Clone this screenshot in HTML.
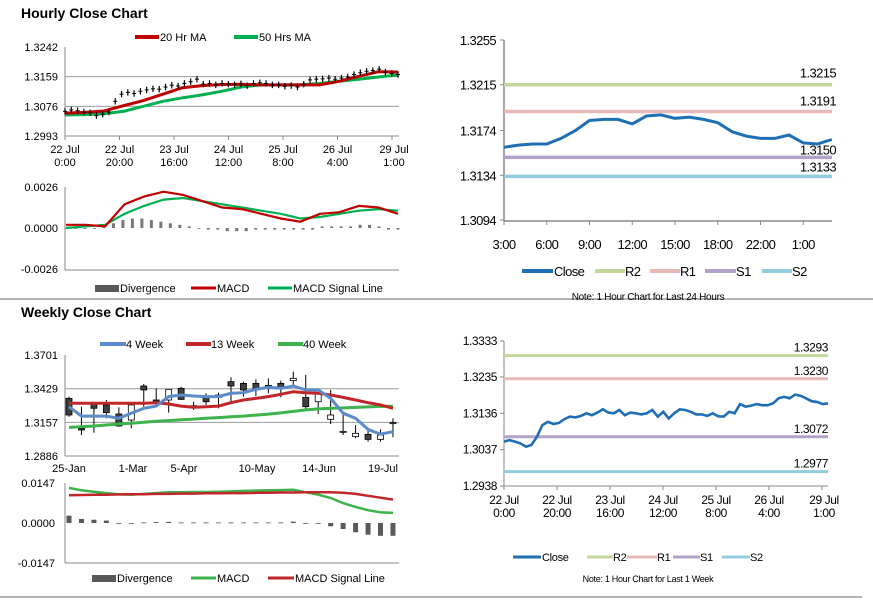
<!DOCTYPE html>
<html><head><meta charset="utf-8"><style>
html,body{margin:0;padding:0;background:#fff}
svg{display:block;font-family:"Liberation Sans",Arial,sans-serif}
.t{font-size:11px;fill:#000}
.tr{font-size:13px;fill:#000;letter-spacing:-0.6px}
.tb{font-size:12px;fill:#000;letter-spacing:-0.4px}
.h{font-size:14px;font-weight:bold;fill:#000}
.n{font-size:10px;fill:#000;letter-spacing:-0.3px}
</style></head><body>
<svg id="page" width="873" height="601" viewBox="0 0 873 601">
<text x="21" y="18" class="h">Hourly Close Chart</text>
<text x="21" y="317" class="h">Weekly Close Chart</text>
<line x1="0" y1="299" x2="873" y2="299" stroke="#888" stroke-width="1.2"/>
<line x1="0" y1="597" x2="862" y2="597" stroke="#888" stroke-width="1.2"/>

<g>
<line x1="135" y1="37" x2="159" y2="37" stroke="#c00000" stroke-width="4"/><text x="160" y="41" class="t">20 Hr MA</text>
<line x1="234" y1="37" x2="258" y2="37" stroke="#00b050" stroke-width="4"/><text x="259" y="41" class="t">50 Hrs MA</text>
</g>
<g>
<rect x="95" y="285" width="24" height="7" fill="#595959"/><text x="120" y="292" class="t">Divergence</text>
<line x1="191" y1="288" x2="216" y2="288" stroke="#c00000" stroke-width="3"/><text x="217" y="292" class="t">MACD</text>
<line x1="268" y1="288" x2="292" y2="288" stroke="#00b050" stroke-width="3"/><text x="293" y="292" class="t">MACD Signal Line</text>
</g>
<g>
<line x1="100" y1="344" x2="126" y2="344" stroke="#5b8bc9" stroke-width="4"/><text x="126" y="348" class="t">4 Week</text>
<line x1="186" y1="344" x2="211" y2="344" stroke="#c0262a" stroke-width="4"/><text x="211" y="348" class="t">13 Week</text>
<line x1="278" y1="344" x2="303" y2="344" stroke="#3cb44b" stroke-width="4"/><text x="303" y="348" class="t">40 Week</text>
</g>
<g>
<rect x="92" y="575" width="24" height="7" fill="#595959"/><text x="117" y="582" class="t">Divergence</text>
<line x1="191" y1="578" x2="216" y2="578" stroke="#3cb44b" stroke-width="3"/><text x="217" y="582" class="t">MACD</text>
<line x1="268" y1="578" x2="294" y2="578" stroke="#c0262a" stroke-width="3"/><text x="295" y="582" class="t">MACD Signal Line</text>
</g>
<g>
<line x1="522" y1="271" x2="553" y2="271" stroke="#1f6fb4" stroke-width="4"/><text x="554" y="276" class="tr">Close</text>
<line x1="595" y1="271" x2="625" y2="271" stroke="#c3d69b" stroke-width="4"/><text x="625" y="276" class="tr">R2</text>
<line x1="650" y1="271" x2="680" y2="271" stroke="#e6b9b8" stroke-width="4"/><text x="680" y="276" class="tr">R1</text>
<line x1="705" y1="271" x2="736" y2="271" stroke="#b3a2c7" stroke-width="4"/><text x="736" y="276" class="tr">S1</text>
<line x1="762" y1="271" x2="792" y2="271" stroke="#93cddd" stroke-width="4"/><text x="792" y="276" class="tr">S2</text>
<text x="648" y="300" class="n" text-anchor="middle">Note: 1 Hour Chart for Last 24 Hours</text>
</g>
<g>
<line x1="513" y1="557" x2="541" y2="557" stroke="#1f6fb4" stroke-width="3"/><text x="542" y="561" class="n" style="font-size:11px">Close</text>
<line x1="587" y1="557" x2="613" y2="557" stroke="#c3d69b" stroke-width="3"/><text x="613" y="561" class="n" style="font-size:11px">R2</text>
<line x1="627" y1="557" x2="657" y2="557" stroke="#e6b9b8" stroke-width="3"/><text x="657" y="561" class="n" style="font-size:11px">R1</text>
<line x1="673" y1="557" x2="700" y2="557" stroke="#b3a2c7" stroke-width="3"/><text x="700" y="561" class="n" style="font-size:11px">S1</text>
<line x1="722" y1="557" x2="750" y2="557" stroke="#93cddd" stroke-width="3"/><text x="750" y="561" class="n" style="font-size:11px">S2</text>
<text x="648" y="582" class="n" style="font-size:9px" text-anchor="middle">Note: 1 Hour Chart for  Last 1 Week</text>
</g>
<g id="charts"></g>
</svg>
<script>
// ---------- Hourly chart data ----------
const hTicks = [1.3242, 1.3159, 1.3076, 1.2993];
const hDates = ["22 Jul","22 Jul","23 Jul","24 Jul","25 Jul","26 Jul","29 Jul"];
const hTimes = ["0:00","20:00","16:00","12:00","8:00","4:00","1:00"];
const hClose = [1.3062,1.3066,1.3064,1.3060,1.3058,1.3050,1.3054,1.3060,1.3090,1.3110,1.3115,1.3112,1.3118,1.3122,1.3125,1.3124,1.3130,1.3135,1.3133,1.3140,1.3145,1.3152,1.3138,1.3140,1.3136,1.3140,1.3138,1.3136,1.3139,1.3134,1.3140,1.3142,1.3140,1.3136,1.3136,1.3132,1.3134,1.3130,1.3138,1.3150,1.3152,1.3153,1.3155,1.3152,1.3155,1.3158,1.3165,1.3170,1.3174,1.3176,1.3180,1.3172,1.3168,1.3165];
const hMA20 = [1.3057,1.3059,1.3063,1.3078,1.3092,1.3110,1.3128,1.3134,1.3137,1.3138,1.3136,1.3136,1.3136,1.3136,1.3146,1.3160,1.3173,1.3172];
const hMA50 = [1.3052,1.3053,1.3055,1.3062,1.3076,1.3090,1.3100,1.3108,1.3118,1.3130,1.3136,1.3136,1.3136,1.3140,1.3146,1.3152,1.3158,1.3164];
const hMacdTicks = [0.0026, 0.0000, -0.0026];
const hMacd = [0.0002,0.0002,0.0001,0.0015,0.0020,0.0023,0.0021,0.0017,0.0013,0.0012,0.0009,0.0006,0.0004,0.0009,0.0010,0.0014,0.0013,0.0009];
const hSignal = [0.0000,0.0001,0.0002,0.0009,0.0014,0.0018,0.0019,0.0017,0.0015,0.0013,0.0011,0.0009,0.0006,0.0007,0.0009,0.0011,0.0012,0.0011];
const hDiv = [0,0,0,0,0.0001,0.0003,0.0005,0.0006,0.0006,0.0005,0.0004,0.0003,0.0002,0.0001,0,-0.0001,-0.0001,-0.0002,-0.0002,-0.0002,-0.0001,-0.0001,-0.0001,-0.0001,-0.0001,-0.0001,-0.0001,0.0001,0.0001,0.0001,0.0001,0.0002,0.0002,0.0001,-0.0001,-0.0001];
// ---------- Weekly chart data ----------
const wTicks = [1.3701, 1.3429, 1.3157, 1.2886];
const wLabels = ["25-Jan","1-Mar","5-Apr","10-May","14-Jun","19-Jul"];
const wOpen  = [1.3351,1.3109,1.3311,1.3298,1.3225,1.3176,1.3451,1.3338,1.3338,1.3432,1.3292,1.3359,1.3359,1.3486,1.3472,1.3472,1.3456,1.3472,1.3494,1.3359,1.3324,1.3182,1.3082,1.3042,1.3061,1.3020,1.3152];
const wHigh  = [1.3365,1.3284,1.3324,1.3338,1.3279,1.3298,1.3467,1.3432,1.3424,1.3445,1.3324,1.3392,1.3397,1.3521,1.3486,1.3505,1.3513,1.3494,1.3567,1.3540,1.3413,1.3419,1.3217,1.3136,1.3109,1.3101,1.3190];
const wLow   = [1.3203,1.3055,1.3074,1.3190,1.3123,1.3109,1.3284,1.3289,1.3236,1.3338,1.3257,1.3298,1.3271,1.3324,1.3365,1.3370,1.3392,1.3359,1.3459,1.3257,1.3225,1.3144,1.3055,1.3029,1.3002,1.3002,1.3037];
const wClose = [1.3217,1.3096,1.3271,1.3236,1.3128,1.3298,1.3419,1.3324,1.3424,1.3343,1.3289,1.3324,1.3378,1.3451,1.3419,1.3432,1.3440,1.3432,1.3513,1.3284,1.3413,1.3217,1.3085,1.3069,1.3020,1.3055,1.3155];
const w4 = [1.3284,1.3208,1.3208,1.3208,1.3190,1.3231,1.3271,1.3289,1.3365,1.3378,1.3370,1.3365,1.3365,1.3392,1.3397,1.3424,1.3440,1.3432,1.3451,1.3419,1.3419,1.3351,1.3231,1.3190,1.3101,1.3063,1.3082];
const w13 = [1.3311,1.3311,1.3311,1.3311,1.3311,1.3311,1.3311,1.3316,1.3306,1.3289,1.3279,1.3284,1.3289,1.3316,1.3338,1.3351,1.3365,1.3384,1.3405,1.3397,1.3392,1.3378,1.3359,1.3338,1.3316,1.3298,1.3271];
const w40 = [1.3117,1.3122,1.3128,1.3136,1.3144,1.3150,1.3158,1.3166,1.3172,1.3178,1.3184,1.3190,1.3196,1.3202,1.3208,1.3216,1.3224,1.3234,1.3246,1.3258,1.3266,1.3270,1.3274,1.3278,1.3282,1.3286,1.3288];
const wMacdTicks = [0.0147, 0.0000, -0.0147];
const wMacd = [0.0129,0.0120,0.0115,0.0110,0.0105,0.0104,0.0107,0.0110,0.0113,0.0113,0.0114,0.0114,0.0115,0.0116,0.0118,0.0119,0.0120,0.0121,0.0122,0.0113,0.0104,0.0092,0.0073,0.0059,0.0047,0.0039,0.0037];
const wSignal = [0.0102,0.0103,0.0104,0.0104,0.0105,0.0106,0.0106,0.0107,0.0107,0.0108,0.0108,0.0109,0.0109,0.0110,0.0110,0.0111,0.0111,0.0112,0.0112,0.0113,0.0113,0.0113,0.0111,0.0107,0.0100,0.0093,0.0086];
const wDiv = [0.0027,0.0015,0.0012,0.0009,-0.0001,-0.0002,0.0002,0.0003,0.0004,0.0002,0.0002,0.0002,0.0002,0.0002,0.0002,0.0002,0.0002,0.0002,0.0005,0.0000,-0.0002,-0.0012,-0.0022,-0.0034,-0.0043,-0.0047,-0.0047];
// ---------- 24h chart data ----------
const dTicks = [1.3255, 1.3215, 1.3174, 1.3134, 1.3094];
const dLabels = ["3:00","6:00","9:00","12:00","15:00","18:00","22:00","1:00"];
const dClose = [1.3159,1.3161,1.3162,1.3162,1.3167,1.3174,1.3183,1.3184,1.3184,1.3180,1.3187,1.3188,1.3185,1.3186,1.3184,1.3181,1.3173,1.3169,1.3167,1.3167,1.3170,1.3163,1.3162,1.3166];
const dLevelNames = ["R2","R1","S1","S2"];
const dLevels = [1.3215, 1.3191, 1.3150, 1.3133];
// ---------- 1 week chart data ----------
const kTicks = [1.3333, 1.3235, 1.3136, 1.3037, 1.2938];
const kDates = ["22 Jul","22 Jul","23 Jul","24 Jul","25 Jul","26 Jul","29 Jul"];
const kTimes = ["0:00","20:00","16:00","12:00","8:00","4:00","1:00"];
const kClose = [1.3059,1.3063,1.3059,1.3054,1.3045,1.3050,1.3072,1.3104,1.3113,1.3107,1.3110,1.3120,1.3127,1.3125,1.3129,1.3136,1.3131,1.3138,1.3147,1.3138,1.3136,1.3145,1.3131,1.3138,1.3136,1.3133,1.3136,1.3145,1.3127,1.3140,1.3122,1.3136,1.3147,1.3145,1.3140,1.3133,1.3133,1.3129,1.3136,1.3128,1.3127,1.3140,1.3136,1.3161,1.3154,1.3157,1.3161,1.3158,1.3158,1.3163,1.3177,1.3181,1.3177,1.3187,1.3184,1.3177,1.3169,1.3167,1.3161,1.3163];
const kLevelNames = ["R2","R1","S1","S2"];
const kLevels = [1.3293, 1.3230, 1.3072, 1.2977];

const NS = "http://www.w3.org/2000/svg";
const root = document.getElementById('charts');
function mk(tag, attrs, parent){
  const e = document.createElementNS(NS, tag);
  for (const k in attrs) e.setAttribute(k, attrs[k]);
  (parent||root).appendChild(e);
  return e;
}
function lin(d0,d1,r0,r1){ return v => r0 + (v-d0)/(d1-d0)*(r1-r0); }
function pathOf(vals, xf, yf){ return vals.map((v,i)=>(i?'L':'M')+xf(i,vals.length).toFixed(1)+','+yf(v).toFixed(1)).join(''); }
function fmt(v){ return v.toFixed(4); }

// ===== Hourly price chart =====
{
  const g = mk('g', {});
  
  
  const y = lin(1.3242, 1.2993, 47, 136);
  const x = (i,n)=> 65 + i*(333/(n-1));
  hTicks.forEach(t=>{
    if (t!==hTicks[0] && t!==hTicks[hTicks.length-1]) mk('line',{x1:65,x2:399,y1:y(t),y2:y(t),stroke:'#999','stroke-width':1},g);
    const lb = mk('text',{x:58,y:y(t)+4,'text-anchor':'end',class:'t'},g);
    
    
    lb.textContent = fmt(t);
  });
  mk('line',{x1:65,x2:65,y1:47,y2:136,stroke:'#888'},g);
  mk('line',{x1:65,x2:399,y1:136,y2:136,stroke:'#888'},g);
  hDates.forEach((d,i)=>{
    const xx = 65 + i*54.5;
    mk('line',{x1:xx,x2:xx,y1:136,y2:140,stroke:'#888'},g);
    const lb = mk('text',{x:xx+(i==6?2:0),y:153,'text-anchor':'middle',class:'t'},g);
    
    
    lb.innerHTML = d + '<tspan x="'+(xx+(i==6?2:0))+'" dy="13">'+hTimes[i]+'</tspan>';
  });
  const ma50 = mk('path',{d:pathOf(hMA50,x,y),fill:'none',stroke:'#00b050','stroke-width':3},g);
  
  
  const ma20 = mk('path',{d:pathOf(hMA20,x,y),fill:'none',stroke:'#c00000','stroke-width':3},g);
  
  
  hClose.forEach((v,i)=>{
    const xx = x(i,hClose.length);
    const b = mk('line',{x1:xx,x2:xx,y1:y(v+0.0009),y2:y(v-0.0009),stroke:'#000','stroke-width':1.2},g);
    
    
    mk('line',{x1:xx-2,x2:xx+2,y1:y(v),y2:y(v),stroke:'#000','stroke-width':1},g);
  });
}
// ===== Hourly MACD =====
{
  const g = mk('g', {});
  
  
  const y = lin(0.0026, -0.0026, 187, 269);
  const x = (i,n)=> 66 + i*(332/(n-1));
  hMacdTicks.forEach(t=>{
    const lb = mk('text',{x:58,y:y(t)+4,'text-anchor':'end',class:'t'},g);
    
    
    lb.textContent = fmt(t);
  });
  mk('line',{x1:65,x2:65,y1:187,y2:270,stroke:'#888'},g);
  mk('line',{x1:65,x2:399,y1:270,y2:270,stroke:'#888'},g);
  hDiv.forEach((v,i)=>{
    const xx = x(i,hDiv.length);
    const b = mk('rect',{x:xx-1.5,y:Math.min(y(v),y(0)),width:3,height:Math.max(0.8,Math.abs(y(v)-y(0))),fill:'#777'},g);
    
    
  });
  const s = mk('path',{d:pathOf(hSignal,x,y),fill:'none',stroke:'#00b050','stroke-width':2.2},g);
  
  
  const m = mk('path',{d:pathOf(hMacd,x,y),fill:'none',stroke:'#c00000','stroke-width':2.2},g);
  
  
}
// ===== Weekly price =====
{
  const g = mk('g', {});
  
  
  const y = lin(1.3701, 1.2886, 355, 456);
  const x = (i)=> 69 + i*12.46;
  wTicks.forEach(t=>{
    if (t!==wTicks[0] && t!==wTicks[wTicks.length-1]) mk('line',{x1:65,x2:399,y1:y(t),y2:y(t),stroke:'#999'},g);
    const lb = mk('text',{x:58,y:y(t)+4,'text-anchor':'end',class:'t'},g);
    
    
    lb.textContent = fmt(t);
  });
  mk('line',{x1:65,x2:65,y1:355,y2:456,stroke:'#888'},g);
  mk('line',{x1:65,x2:399,y1:456,y2:456,stroke:'#888'},g);
  const lx = [69,133,184,257,319,383];
  wLabels.forEach((l,i)=>{
    const lb = mk('text',{x:lx[i],y:472,'text-anchor':'middle',class:'t'},g);
    
    
    lb.textContent = l;
  });
  wOpen.forEach((o,i)=>{
    const c = wClose[i], xx = x(i);
    const w = mk('line',{x1:xx,x2:xx,y1:y(wHigh[i]),y2:y(wLow[i]),stroke:'#000'},g);
    
    
    const top = Math.min(y(o),y(c)), h = Math.max(1,Math.abs(y(o)-y(c)));
    const b = mk('rect',{x:xx-3,y:top,width:6,height:h,fill:c<o?'#404040':'#fff',stroke:'#000','stroke-width':0.8},g);
    
    
  });
  const l40 = mk('path',{d:pathOf(w40,x,y),fill:'none',stroke:'#3cb44b','stroke-width':3},g);
  
  
  const l13 = mk('path',{d:pathOf(w13,x,y),fill:'none',stroke:'#c0262a','stroke-width':3},g);
  
  
  const l4 = mk('path',{d:pathOf(w4,x,y),fill:'none',stroke:'#5b8bc9','stroke-width':3},g);
  
  
}
// ===== Weekly MACD =====
{
  const g = mk('g', {});
  
  
  const y = lin(0.0147, -0.0147, 483, 563);
  const x = (i)=> 69 + i*12.46;
  wMacdTicks.forEach(t=>{
    const lb = mk('text',{x:55,y:y(t)+4,'text-anchor':'end',class:'t'},g);
    
    
    lb.textContent = fmt(t);
  });
  mk('line',{x1:65,x2:65,y1:483,y2:563,stroke:'#888'},g);
  mk('line',{x1:65,x2:399,y1:563,y2:563,stroke:'#888'},g);
  wDiv.forEach((v,i)=>{
    const b = mk('rect',{x:x(i)-2.5,y:Math.min(y(v),y(0)),width:5,height:Math.max(0.8,Math.abs(y(v)-y(0))),fill:'#595959'},g);
    
    
  });
  const m = mk('path',{d:pathOf(wMacd,x,y),fill:'none',stroke:'#3cb44b','stroke-width':2.5},g);
  
  
  const s = mk('path',{d:pathOf(wSignal,x,y),fill:'none',stroke:'#c0262a','stroke-width':2.5},g);
  
  
}
const levelColors = ['#c3d69b','#e6b9b8','#b3a2c7','#93cddd'];
// ===== 24h chart =====
{
  const g = mk('g', {});
  
  
  const y = lin(1.3255, 1.3094, 40, 220);
  const x = (i)=> 504 + i*14.25;
  dTicks.forEach(t=>{
    const lb = mk('text',{x:496,y:y(t)+5,'text-anchor':'end',class:'tr'},g);
    
    
    lb.textContent = fmt(t);
    mk('line',{x1:500,x2:504,y1:y(t),y2:y(t),stroke:'#888'},g);
  });
  mk('line',{x1:504,x2:504,y1:40,y2:221,stroke:'#888','stroke-width':1.5},g);
  mk('line',{x1:504,x2:832,y1:221,y2:221,stroke:'#888','stroke-width':1.5},g);
  dLabels.forEach((l,i)=>{
    const xx = x(i*3);
    mk('line',{x1:xx,x2:xx,y1:221,y2:225,stroke:'#888'},g);
    const lb = mk('text',{x:xx,y:249,'text-anchor':'middle',class:'tr'},g);
    
    
    lb.textContent = l;
  });
  const lblDy = [-7,-6,-3,-5];
  dLevels.forEach((v,i)=>{
    const ln = mk('line',{x1:504,x2:832,y1:y(v),y2:y(v),stroke:levelColors[i],'stroke-width':3.5},g);
    
    
  });
  const c = mk('path',{d:pathOf(dClose,(i)=>x(i),y),fill:'none',stroke:'#1f6fb4','stroke-width':3},g);
  
  
  dLevels.forEach((v,i)=>{
    const lb = mk('text',{x:836,y:y(v)+lblDy[i],'text-anchor':'end',class:'tr'},g);
    
    
    lb.textContent = fmt(v);
  });
}
// ===== 1 week chart =====
{
  const g = mk('g', {});
  
  
  const y = lin(1.3333, 1.2938, 341, 486);
  const x = (i,n)=> 504 + i*(324/(n-1));
  kTicks.forEach(t=>{
    const lb = mk('text',{x:497,y:y(t)+4,'text-anchor':'end',class:'tb'},g);
    
    
    lb.textContent = fmt(t);
    mk('line',{x1:500,x2:504,y1:y(t),y2:y(t),stroke:'#888'},g);
  });
  mk('line',{x1:504,x2:504,y1:341,y2:486,stroke:'#888'},g);
  mk('line',{x1:504,x2:828,y1:486,y2:486,stroke:'#888'},g);
  kDates.forEach((d,i)=>{
    const xx = 504 + i*53;
    mk('line',{x1:xx,x2:xx,y1:486,y2:490,stroke:'#888'},g);
    const lb = mk('text',{x:xx+(i==6?2:0),y:504,'text-anchor':'middle',class:'tb'},g);
    
    
    lb.innerHTML = d + '<tspan x="'+(xx+(i==6?2:0))+'" dy="13">'+kTimes[i]+'</tspan>';
  });
  kLevels.forEach((v,i)=>{
    const ln = mk('line',{x1:504,x2:828,y1:y(v),y2:y(v),stroke:levelColors[i],'stroke-width':3},g);
    
    
    const lb = mk('text',{x:828,y:y(v)-4,'text-anchor':'end',class:'tb'},g);
    
    
    lb.textContent = fmt(v);
  });
  const c = mk('path',{d:pathOf(kClose,x,y),fill:'none',stroke:'#1f6fb4','stroke-width':2.6},g);
  
  
}
</script>
</body></html>
